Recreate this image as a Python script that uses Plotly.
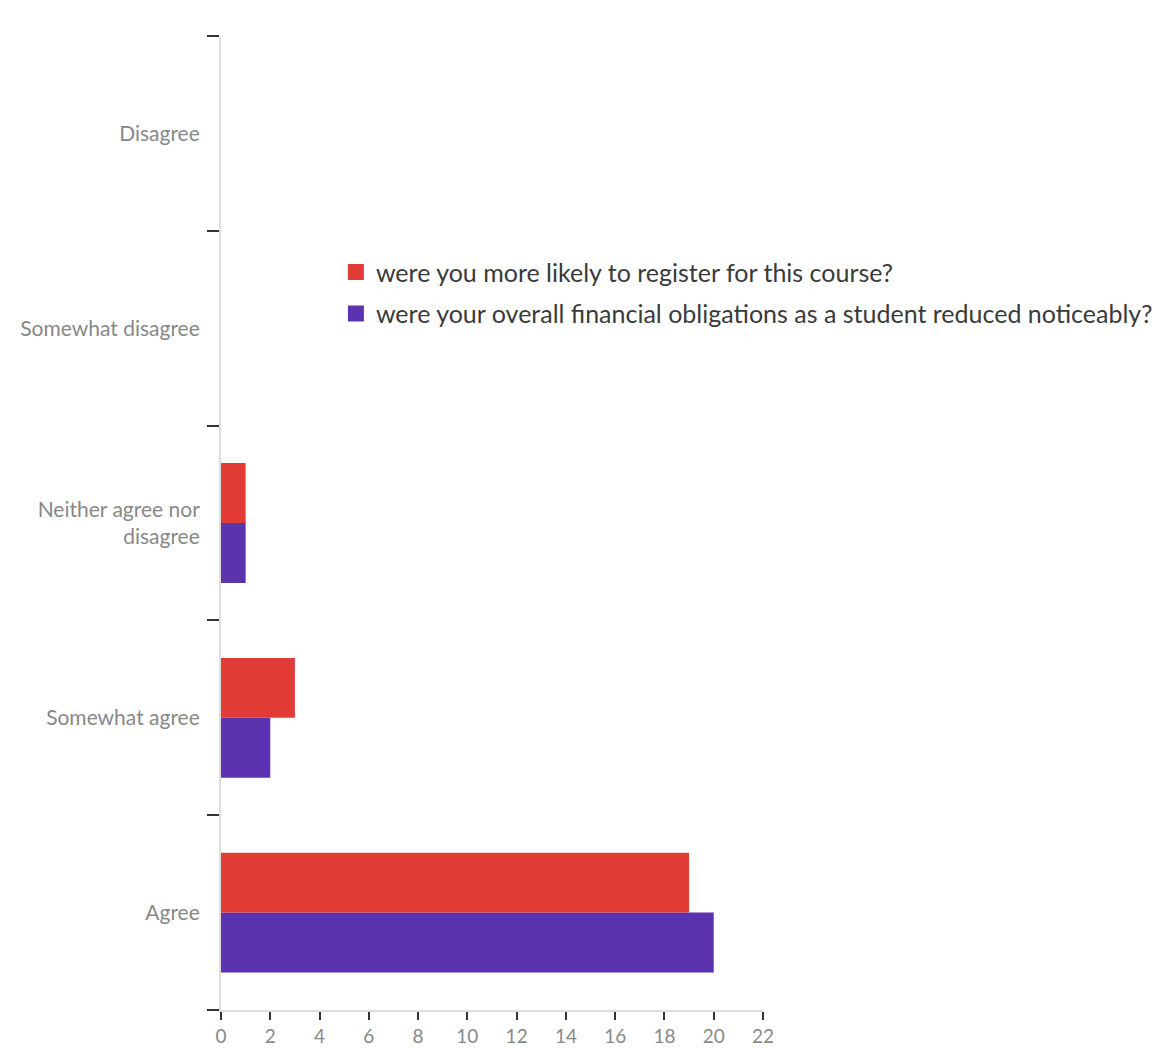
import plotly.graph_objects as go

categories = ["Agree", "Somewhat agree", "Neither agree nor<br>disagree", "Somewhat disagree", "Disagree"]
register_vals = [19, 3, 1, 0, 0]
financial_vals = [20, 2, 1, 0, 0]
series_names = ["were you more likely to register for this course?",
                "were your overall financial obligations as a student reduced noticeably?"]
x_ticks = list(range(0, 23, 2))

RED = "#e23a35"
PURPLE = "#5b33ae"
FONT = "Lato, 'Open Sans', sans-serif"

fig = go.Figure()
# purple first so it sits at bottom of each group (horizontal grouping)
fig.add_trace(go.Bar(y=categories, x=financial_vals, orientation="h",
                     marker=dict(color=PURPLE, line=dict(width=0)), showlegend=False))
fig.add_trace(go.Bar(y=categories, x=register_vals, orientation="h",
                     marker=dict(color=RED, line=dict(width=0)), showlegend=False))
# legend entries
fig.add_trace(go.Scatter(x=[None], y=[None], mode="markers", name=series_names[0],
                         legendgroup="a",
                         marker=dict(symbol="square", size=19, color=RED)))
fig.add_trace(go.Scatter(x=[None], y=[None], mode="markers", name=series_names[1],
                         legendgroup="b",
                         marker=dict(symbol="square", size=19, color=PURPLE)))

fig.update_layout(
    width=1174, height=1049,
    margin=dict(l=221, r=411, t=36, b=39, autoexpand=False),
    paper_bgcolor="white", plot_bgcolor="white",
    barmode="group", bargap=0.385, bargroupgap=0,
    font=dict(family=FONT, color="#888888"),
    showlegend=True,
    legend=dict(x=0.212, y=0.781, xanchor="left", yanchor="top",
                font=dict(size=25, color="#3a3a3a", family=FONT),
                bgcolor="rgba(0,0,0,0)", tracegroupgap=6, itemsizing="trace"),
)
fig.update_xaxes(range=[0, 22], tickvals=x_ticks, ticktext=[str(v) for v in x_ticks],
                 automargin=False,
                 showgrid=False, zeroline=False, showline=True, linecolor="#dddddd", linewidth=2,
                 ticks="outside", ticklen=8, tickwidth=2, tickcolor="#333333",
                 tickfont=dict(size=19, color="#888888", family=FONT))
fig.update_yaxes(type="category", categoryorder="array", categoryarray=categories,
                 range=[-0.5, 4.5], tickson="boundaries", automargin=False,
                 showgrid=False, zeroline=False, showline=True, linecolor="#dddddd", linewidth=2,
                 ticks="outside", ticklen=12, tickwidth=2, tickcolor="#333333",
                 ticklabelstandoff=15,
                 tickfont=dict(size=21, color="#888888", family=FONT))

fig.write_html("out.html")
